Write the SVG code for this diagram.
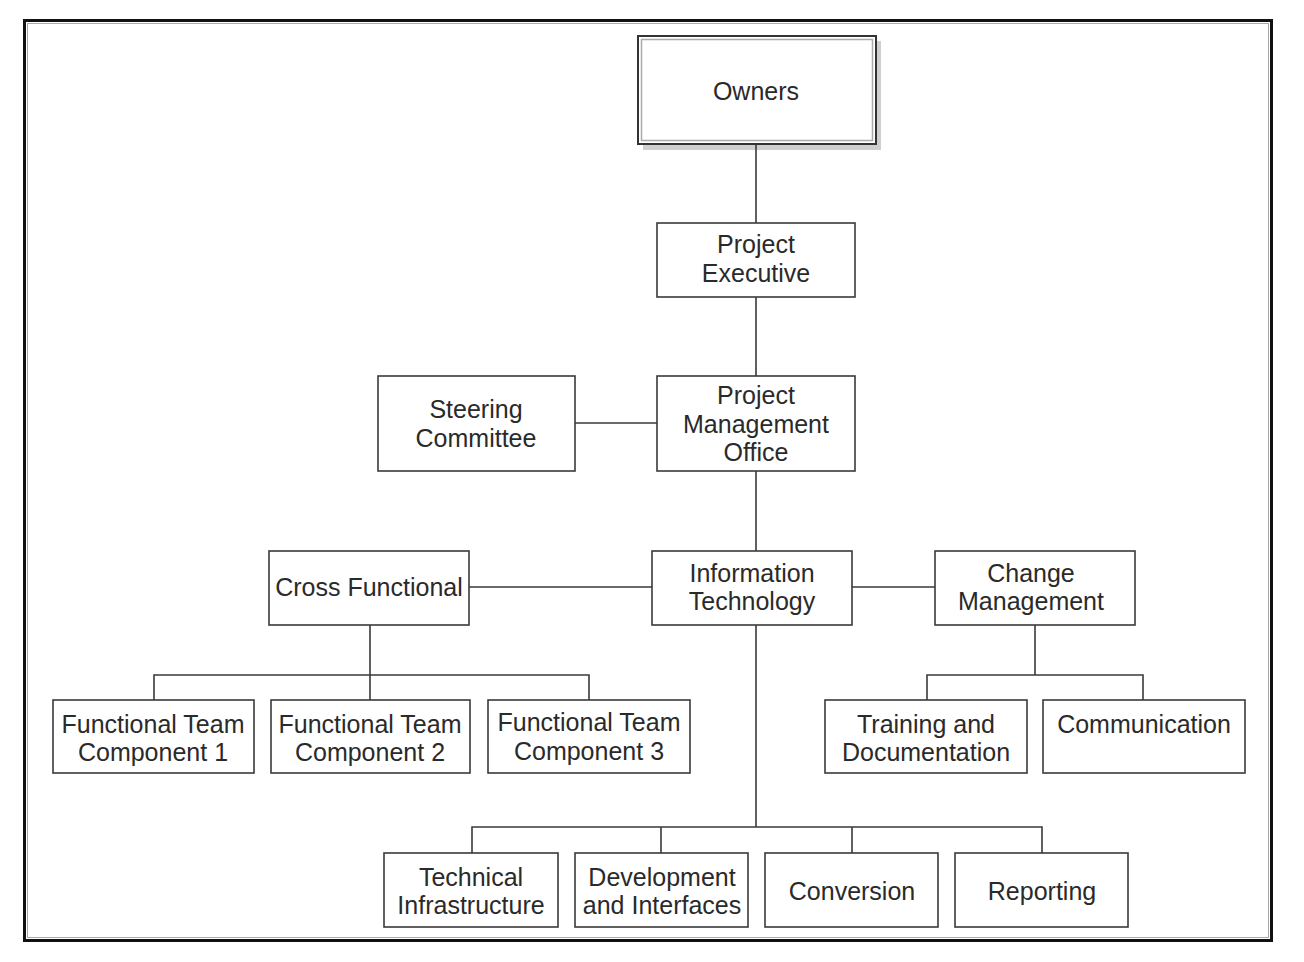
<svg xmlns="http://www.w3.org/2000/svg" width="1304" height="962" viewBox="0 0 1304 962">
<style>
.box{fill:#fff;stroke:#3a3a3a;stroke-width:1.6}
.ln{fill:none;stroke:#3a3a3a;stroke-width:1.6}
text{font-family:"Liberation Sans",Arial,sans-serif;font-size:25px;fill:#2a2a2a;text-anchor:middle}
</style>
<rect x="0" y="0" width="1304" height="962" fill="#fff"/>
<rect x="24.5" y="20.5" width="1247" height="920" fill="none" stroke="#111" stroke-width="3"/>
<rect x="27.5" y="23.5" width="1241" height="914" fill="none" stroke="#aaa" stroke-width="1"/>
<g id="owners">
<rect x="643" y="41" width="238" height="109" fill="#cfcfcf"/>
<rect x="638" y="36" width="238" height="108" fill="#fff" stroke="#333" stroke-width="2"/>
<rect x="641.5" y="39.5" width="231" height="101" fill="none" stroke="#aaa" stroke-width="1.5"/>
<text x="756" y="100">Owners</text>
</g>
<g id="connectors">
<path class="ln" d="M756 145V223M756 297V376M575 423H657M756 471V551M469 587H652M852 587H935"/>
<path class="ln" d="M370 625V700M154 700V675H589V700"/>
<path class="ln" d="M1035 625V675M927 700V675H1143V700"/>
<path class="ln" d="M756 625V827M472 853V827H1042V853M661 827V853M852 827V853"/>
</g>
<g id="project-executive">
<rect class="box" x="657" y="223" width="198" height="74"/>
<text x="756" y="253">Project</text><text x="756" y="282">Executive</text>
</g>
<g id="steering-committee">
<rect class="box" x="378" y="376" width="197" height="95"/>
<text x="476" y="418">Steering</text><text x="476" y="447">Committee</text>
</g>
<g id="pmo">
<rect class="box" x="657" y="376" width="198" height="95"/>
<text x="756" y="404">Project</text><text x="756" y="433">Management</text><text x="756" y="461">Office</text>
</g>
<g id="cross-functional">
<rect class="box" x="269" y="551" width="200" height="74"/>
<text x="369" y="596">Cross Functional</text>
</g>
<g id="information-technology">
<rect class="box" x="652" y="551" width="200" height="74"/>
<text x="752" y="582">Information</text><text x="752" y="610">Technology</text>
</g>
<g id="change-management">
<rect class="box" x="935" y="551" width="200" height="74"/>
<text x="1031" y="582">Change</text><text x="1031" y="610">Management</text>
</g>
<g id="ft1">
<rect class="box" x="53" y="700" width="201" height="73"/>
<text x="153" y="733">Functional Team</text><text x="153" y="761">Component 1</text>
</g>
<g id="ft2">
<rect class="box" x="271" y="700" width="199" height="73"/>
<text x="370" y="733">Functional Team</text><text x="370" y="761">Component 2</text>
</g>
<g id="ft3">
<rect class="box" x="488" y="700" width="202" height="73"/>
<text x="589" y="731">Functional Team</text><text x="589" y="760">Component 3</text>
</g>
<g id="training">
<rect class="box" x="825" y="700" width="202" height="73"/>
<text x="926" y="733">Training and</text><text x="926" y="761">Documentation</text>
</g>
<g id="communication">
<rect class="box" x="1043" y="700" width="202" height="73"/>
<text x="1144" y="733">Communication</text>
</g>
<g id="technical-infrastructure">
<rect class="box" x="384" y="853" width="174" height="74"/>
<text x="471" y="886">Technical</text><text x="471" y="914">Infrastructure</text>
</g>
<g id="development-interfaces">
<rect class="box" x="575" y="853" width="173" height="74"/>
<text x="662" y="886">Development</text><text x="662" y="914">and Interfaces</text>
</g>
<g id="conversion">
<rect class="box" x="765" y="853" width="173" height="74"/>
<text x="852" y="900">Conversion</text>
</g>
<g id="reporting">
<rect class="box" x="955" y="853" width="173" height="74"/>
<text x="1042" y="900">Reporting</text>
</g>
</svg>
